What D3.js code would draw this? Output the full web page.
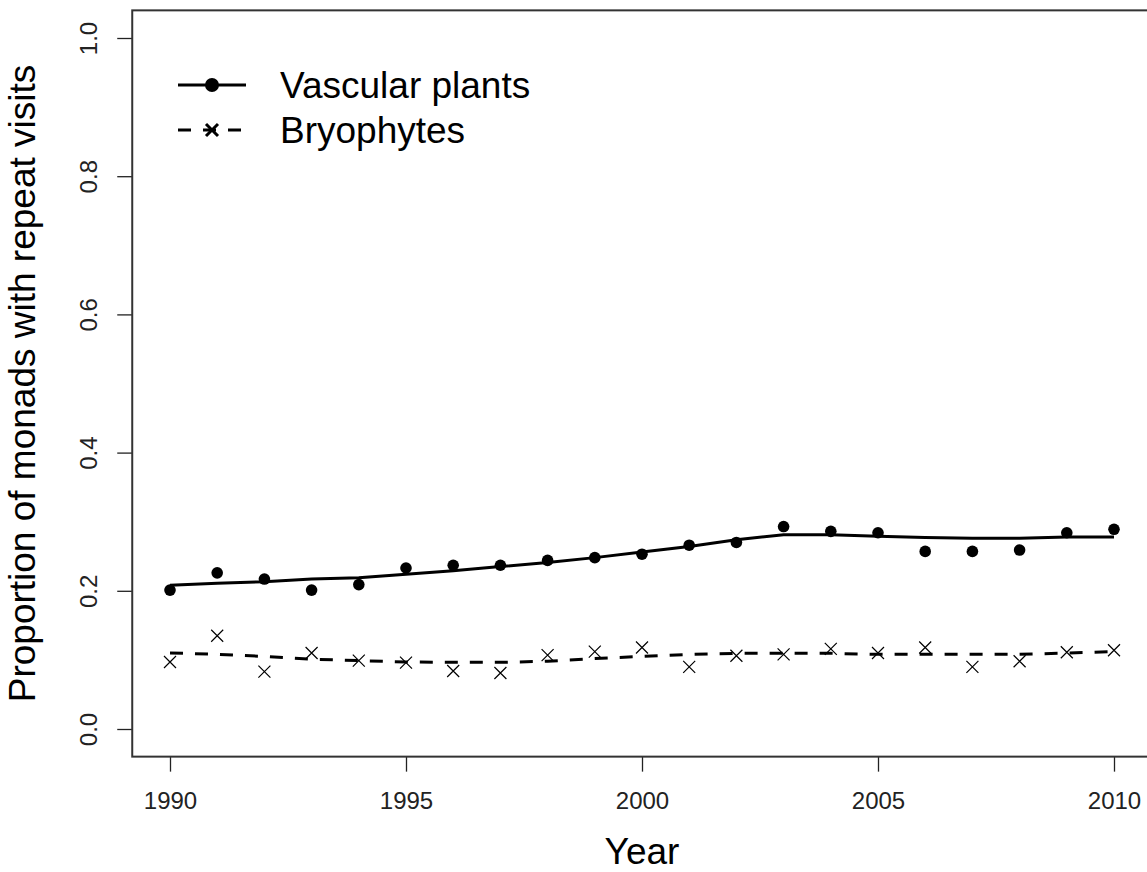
<!DOCTYPE html>
<html>
<head>
<meta charset="utf-8">
<script src="https://cdn.jsdelivr.net/npm/d3@7"></script>
<style>
  body { margin: 0; background: #fff; }
  svg { display: block; font-family: "Liberation Sans", Arial, sans-serif; }
</style>
</head>
<body>
<svg width="1147" height="872"></svg>
<script>
// years on the x axis
const years = [1990, 1991, 1992, 1993, 1994, 1995, 1996, 1997, 1998, 1999, 2000,
               2001, 2002, 2003, 2004, 2005, 2006, 2007, 2008, 2009, 2010]

// observed proportions
const vascular = [0.201, 0.226, 0.217, 0.201, 0.209, 0.233, 0.237, 0.237, 0.244, 0.248, 0.253,
                  0.266, 0.270, 0.293, 0.286, 0.284, 0.257, 0.257, 0.259, 0.284, 0.289]
const bryophytes = [0.097, 0.135, 0.083, 0.110, 0.099, 0.096, 0.084, 0.081, 0.107, 0.112, 0.118,
                    0.090, 0.106, 0.108, 0.116, 0.110, 0.118, 0.090, 0.098, 0.111, 0.114]

// smoothed trend lines
const vascularFit = [0.208, 0.211, 0.213, 0.217, 0.219, 0.224, 0.229, 0.235, 0.241, 0.248, 0.256,
                     0.264, 0.274, 0.281, 0.281, 0.279, 0.277, 0.276, 0.276, 0.278, 0.278]
const bryophytesFit = [0.110, 0.108, 0.105, 0.101, 0.099, 0.097, 0.0965, 0.0965, 0.098, 0.102, 0.105,
                       0.108, 0.1095, 0.1095, 0.1095, 0.108, 0.108, 0.108, 0.108, 0.110, 0.112]

const xTicks = [1990, 1995, 2000, 2005, 2010]
const yTicks = [0, 0.2, 0.4, 0.6, 0.8, 1.0]
const legendLabels = ["Vascular plants", "Bryophytes"]

const svg = d3.select("svg")
const x = d3.scaleLinear().domain([1990, 2010]).range([170, 1114])
const y = d3.scaleLinear().domain([0, 1]).range([729, 38])

// plot box, R style (4% padding on each side)
const boxL = x(1989.2), boxR = x(2010.8), boxT = y(1.04), boxB = y(-0.04)

// x axis
const xAxis = svg.append("g")
    .attr("transform", `translate(0,${boxB})`)
    .call(d3.axisBottom(x).tickValues(xTicks).tickFormat(d3.format("d")).tickSize(15).tickPadding(20))
xAxis.select(".domain").remove()
xAxis.selectAll("line").attr("stroke", "#222").attr("stroke-width", 1.3)
xAxis.selectAll("text").attr("font-size", 24).attr("fill", "#222").attr("font-family", null)

// y axis, labels rotated like R's las=0
const yAxis = svg.append("g")
    .attr("transform", `translate(${boxL},0)`)
    .call(d3.axisLeft(y).tickValues(yTicks).tickFormat(d3.format(".1f")).tickSize(15))
yAxis.select(".domain").remove()
yAxis.selectAll("line").attr("stroke", "#222").attr("stroke-width", 1.3)
yAxis.selectAll("text")
    .attr("x", null).attr("dy", null)
    .attr("transform", "translate(-35,0) rotate(-90)")
    .attr("text-anchor", "middle")
    .attr("font-size", 24).attr("fill", "#222").attr("font-family", null)

// box
svg.append("rect")
    .attr("x", boxL).attr("y", boxT)
    .attr("width", boxR - boxL).attr("height", boxB - boxT)
    .attr("fill", "none").attr("stroke", "#333").attr("stroke-width", 2)

// axis titles
svg.append("text")
    .attr("x", (boxL + boxR) / 2).attr("y", 864)
    .attr("text-anchor", "middle").attr("font-size", 37)
    .text("Year")
svg.append("text")
    .attr("transform", `translate(35,${(boxT + boxB) / 2}) rotate(-90)`)
    .attr("text-anchor", "middle").attr("font-size", 37)
    .text("Proportion of monads with repeat visits")

const line = d3.line().x((d, i) => x(years[i])).y(d => y(d))

// trend lines
svg.append("path").datum(vascularFit)
    .attr("d", line).attr("fill", "none").attr("stroke", "#000").attr("stroke-width", 3)
svg.append("path").datum(bryophytesFit)
    .attr("d", line).attr("fill", "none").attr("stroke", "#000").attr("stroke-width", 3)
    .attr("stroke-dasharray", "13,12")

// points
svg.selectAll("circle.vasc").data(vascular).join("circle")
    .attr("class", "vasc")
    .attr("cx", (d, i) => x(years[i])).attr("cy", d => y(d))
    .attr("r", 5.8).attr("fill", "#000")

const crossPath = s => `M${-s},${-s}L${s},${s}M${-s},${s}L${s},${-s}`
svg.selectAll("path.bryo").data(bryophytes).join("path")
    .attr("class", "bryo")
    .attr("transform", (d, i) => `translate(${x(years[i])},${y(d)})`)
    .attr("d", crossPath(6))
    .attr("fill", "none").attr("stroke", "#000").attr("stroke-width", 1.2)

// legend
const legend = svg.append("g")
const rowY = [85, 130]
legend.append("line").attr("x1", 178).attr("x2", 246).attr("y1", rowY[0]).attr("y2", rowY[0])
    .attr("stroke", "#000").attr("stroke-width", 3)
legend.append("circle").attr("cx", 212).attr("cy", rowY[0]).attr("r", 7).attr("fill", "#000")
legend.append("line").attr("x1", 178).attr("x2", 246).attr("y1", rowY[1]).attr("y2", rowY[1])
    .attr("stroke", "#000").attr("stroke-width", 3).attr("stroke-dasharray", "13,12")
legend.append("path").attr("transform", `translate(212,${rowY[1]})`)
    .attr("d", crossPath(6)).attr("fill", "none").attr("stroke", "#000").attr("stroke-width", 3)
legend.selectAll("text").data(legendLabels).join("text")
    .attr("x", 280).attr("y", (d, i) => rowY[i])
    .attr("dy", "0.35em").attr("font-size", 37)
    .text(d => d)
</script>
</body>
</html>
